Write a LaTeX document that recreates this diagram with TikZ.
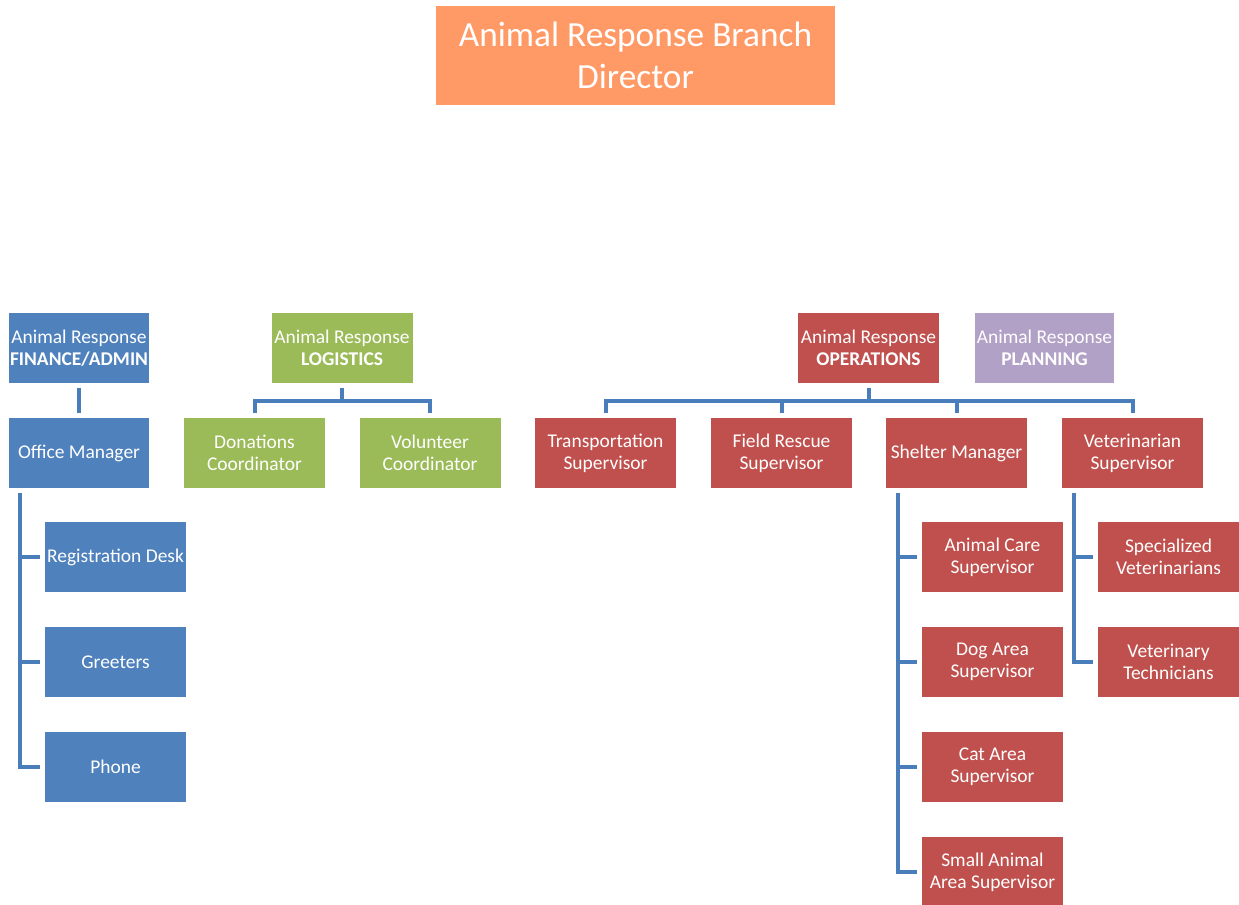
\documentclass[tikz,border=0pt]{standalone}
\usepackage{fontspec}
\setmainfont{Carlito}
\usetikzlibrary{calc}
\definecolor{orgblue}{HTML}{4F81BD}
\definecolor{orggreen}{HTML}{9BBB59}
\definecolor{orgred}{HTML}{C0504D}
\definecolor{orgpurple}{HTML}{B2A1C7}
\definecolor{orgorange}{HTML}{FF9966}
\definecolor{linkblue}{HTML}{4A7EBB}
\tikzset{
  box/.style={rectangle, inner sep=0pt, align=center, text=white,
    font=\fontsize{14.6}{16.5}\selectfont,
    minimum width=105.75pt, minimum height=52.5pt},
  bluebox/.style={box, fill=orgblue},
  greenbox/.style={box, fill=orggreen},
  redbox/.style={box, fill=orgred},
  purplebox/.style={box, fill=orgpurple},
  link/.style={draw=linkblue, line width=3pt, shorten <=3.5pt, shorten >=3.75pt},
}
\begin{document}
\begin{tikzpicture}[x=0.75pt, y=-0.75pt]
\useasboundingbox (0,0) rectangle (1239,905);

% top level
\node[box, fill=orgorange, minimum width=299.25pt, minimum height=74.25pt,
      font=\fontsize{26.5}{32}\selectfont] (dir) at (635.5,55.5)
      {Animal Response Branch\\Director};

% section heads
\node[bluebox, minimum width=105pt] (fin) at (79,348) {Animal Response\\\textbf{FINANCE/ADMIN}};
\node[greenbox] (log) at (342,348) {Animal Response\\\textbf{LOGISTICS}};
\node[redbox] (ops) at (868.5,348) {Animal Response\\\textbf{OPERATIONS}};
\node[purplebox, minimum width=104.25pt] (plan) at (1044.5,348) {Animal Response\\\textbf{PLANNING}};

% finance / admin
\node[bluebox, minimum width=105pt] (om) at (79,453) {Office Manager};
\node[bluebox] (reg) at (115.5,557) {Registration Desk};
\node[bluebox] (greet) at (115.5,662) {Greeters};
\node[bluebox] (phone) at (115.5,767) {Phone};

% logistics
\node[greenbox] (don) at (254.5,453) {Donations\\Coordinator};
\node[greenbox] (vol) at (430,453) {Volunteer\\Coordinator};

% operations
\node[redbox] (trans) at (605.5,453) {Transportation\\Supervisor};
\node[redbox] (field) at (781.5,453) {Field Rescue\\Supervisor};
\node[redbox] (shel) at (956.5,453) {Shelter Manager};
\node[redbox] (vet) at (1132.5,453) {Veterinarian\\Supervisor};

\node[redbox] (care) at (992.5,557) {Animal Care\\Supervisor};
\node[redbox] (dog) at (992.5,662) {Dog Area\\Supervisor};
\node[redbox] (cat) at (992.5,767) {Cat Area\\Supervisor};
\node[redbox] (small) at (992.5,872) {Small Animal\\Area Supervisor};

\node[redbox] (spec) at (1168.5,557) {Specialized\\Veterinarians};
\node[redbox] (tech) at (1168.5,662) {Veterinary\\Technicians};

% connectors
\draw[link] (fin.south) -- (om.north);
\foreach \c in {reg,greet,phone}
  \draw[link] ($(om.south west)+(11,0)$) |- (\c.west);

\foreach \c in {don,vol}
  \draw[link] (log.south) -- ++(0,18) -| (\c.north);

\foreach \c in {trans,field,shel,vet}
  \draw[link] (ops.south) -- ++(0,18) -| (\c.north);

\foreach \c in {care,dog,cat,small}
  \draw[link] ($(shel.south west)+(12,0)$) |- (\c.west);
\foreach \c in {spec,tech}
  \draw[link] ($(vet.south west)+(12,0)$) |- (\c.west);
\end{tikzpicture}
\end{document}
